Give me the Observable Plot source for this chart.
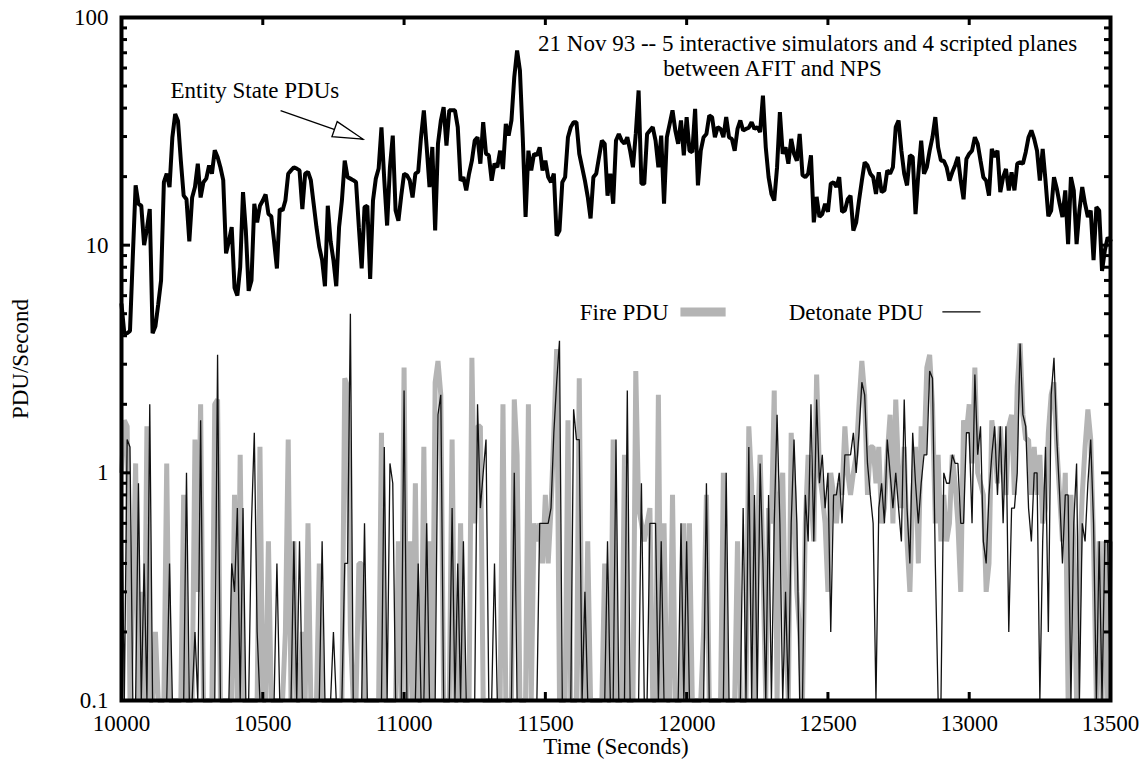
<!DOCTYPE html>
<html><head><meta charset="utf-8">
<script src="https://cdn.jsdelivr.net/npm/d3@7"></script>
<script src="https://cdn.jsdelivr.net/npm/@observablehq/plot@0.6"></script>
<style>html,body{margin:0;padding:0;background:#fff;} #chart svg{display:block}</style>
</head><body><div id="chart"></div>
<script>
// Sample times: one sample every 10 s starting at 10000 s
const startTime = 10000;
const sampleStep = 10;

// Entity State PDUs per second
const entityState = [
5.5,4.1,4.1,4.2,8.9,18.3,15.2,14.9,10.0,11.8,
14.4,4.1,4.4,5.5,7.0,18.9,20.6,18.0,29.8,37.7,
35.1,23.5,16.5,15.9,10.4,16.2,18.0,22.8,16.2,18.9,
19.6,22.4,20.6,26.1,24.4,22.0,19.3,9.2,10.4,12.0,
6.5,6.0,8.0,17.1,11.6,6.3,7.0,15.2,12.6,14.9,
15.7,16.7,13.7,13.4,10.4,7.9,14.4,14.2,15.7,20.6,
21.3,22.0,21.7,21.3,14.4,20.6,21.0,19.3,15.2,12.0,
9.8,8.6,6.6,14.9,10.4,8.6,6.6,12.0,15.7,23.5,
19.9,19.6,19.3,18.9,12.0,7.9,14.7,14.9,7.1,15.7,
19.6,21.7,32.9,19.3,12.2,22.0,30.3,14.2,12.8,16.5,
20.6,20.3,19.3,16.2,20.6,21.0,29.8,39.1,27.0,18.0,
27.0,11.6,27.9,35.1,40.4,27.4,39.1,39.1,39.1,33.0,
19.2,19.9,17.4,20.6,23.5,28.8,29.8,22.8,34.7,25.2,
24.8,19.2,22.8,22.0,26.0,21.6,34.1,30.3,35.3,54.7,
71.6,58.5,29.8,13.3,26.0,21.3,25.2,24.8,26.9,21.3,
23.5,19.9,18.9,20.6,11.0,11.6,18.9,19.9,29.8,33.0,
34.7,34.7,25.2,22.0,19.2,16.3,13.1,19.9,20.6,24.4,
28.8,27.9,16.5,20.6,15.2,28.8,30.8,28.8,27.9,29.8,
26.0,22.0,30.8,47.8,18.6,18.6,30.8,31.9,33.0,28.8,
22.0,30.3,15.2,29.8,34.1,39.1,31.9,27.9,35.3,24.8,
36.5,26.0,25.6,39.7,18.3,26.0,29.8,30.8,37.1,36.5,
29.8,33.0,32.4,29.8,36.5,29.8,29.3,26.0,32.4,35.3,
31.9,32.4,32.8,34.7,32.4,33.0,31.4,45.4,26.9,19.9,
16.8,15.7,22.0,38.4,25.2,26.9,22.8,29.3,25.2,23.5,
30.8,20.3,19.9,20.6,24.8,12.6,16.3,13.3,13.7,15.2,
14.0,18.6,18.9,18.0,19.9,14.0,14.2,15.9,16.5,11.6,
12.6,15.7,19.2,23.1,22.4,20.6,19.9,16.8,20.9,17.1,
17.4,21.3,20.6,22.0,33.0,35.3,26.0,20.6,18.3,24.8,
24.4,13.7,20.6,28.8,20.6,22.0,26.0,29.8,36.5,26.9,
23.5,23.5,22.0,19.2,20.9,22.4,24.4,19.2,15.9,23.9,
25.2,26.0,29.8,27.9,23.5,19.9,19.2,16.5,26.5,24.4,
26.0,17.1,19.9,21.6,17.4,20.9,17.4,22.8,23.1,22.8,
25.6,29.8,31.9,29.3,26.0,19.2,26.5,19.2,13.4,14.2,
19.9,17.7,15.2,13.3,17.4,10.1,19.9,17.4,10.1,14.2,
18.0,15.2,13.3,14.2,8.6,14.7,14.2,7.7,9.5,10.8,
10.5
];

// Fire PDUs per second (0 = none in that interval, drawn on the axis floor)
const firePdu = [
1.0,1.7,1.6,0,0.3,1.1,0,0.3,0,1.6,
0,0,0.2,0,0,0,1.1,0,0,0,
0,0,0.8,0,0,0,1.4,0.3,2.0,0,
0,0,0,2.0,2.1,0,0,0,0,0,
0.8,0,1.2,0,0,0,0,0,0,1.3,
0,0,0.5,0,0,0,0,0,0.2,1.4,
0,0.5,0,0,0.2,0,0.6,0,0,0,
0.4,0,0,0,0,0,0,0,0,2.6,
2.4,0.2,0,0,0.4,0.4,0,0,0,0,
0,0,1.5,0,0,0,0,0,0.5,0,
2.9,0,0.5,0,0.9,0,0,1.3,0,0.5,
0,2.5,3.1,2.2,0,0,0,1.4,0,0,
0.6,0,0,0,3.2,0.6,1.6,1.6,0,0,
0,0,0,0,0,2.0,0,0,0,2.1,
1.2,0,0,0,2.0,0,0.6,0.5,0.6,0.4,
0.8,0.4,0.7,1.5,3.5,0,0,0,1.7,0,
0,0,2.6,0,0,0.5,0,0,0,0,
0,0.4,0,0,1.4,0,0,0,1.2,0,
0,0,2.8,0.7,0.6,0.5,0.6,0.7,0,0,
2.2,0,0.6,0,0,0.8,0,0,0,0.6,
0,0.6,0,0,0,0,0.2,0.8,0,0,
0,0,0,1.0,0,0,0,0,0.5,0,
0,0,1.6,0.9,0,0.5,1.2,0.4,0,0.7,
0.6,2.3,0,0.8,1.0,0.2,0,1.5,0.8,0.3,
0.2,0,0.6,1.2,0.8,0.5,2.7,1.0,0.8,0.6,
0.3,1.0,0.8,0.6,0.9,0.8,1.6,1.0,0.8,1.0,
1.2,2.0,3.1,2.2,0.8,1.3,1.3,0.9,1.3,0.6,
0.7,1.2,1.8,0.6,2.1,1.0,0.7,1.3,0.5,0.3,
0.8,1.3,0.4,1.6,1.2,2.9,3.3,2.0,0.6,1.2,
0.5,0.8,0.5,0.6,1.2,0.9,0.6,0.3,1.7,1.5,
2.0,1.1,2.9,1.0,0.9,0.8,0.3,0.4,1.7,1.3,
0.9,1.6,1.0,0.8,1.6,1.8,0.8,2.4,3.7,1.8,
1.4,1.4,0.8,1.3,0.8,1.2,0.6,0.7,1.5,2.2,
2.5,1.3,0.8,0.5,1.0,0,0.8,0.5,0,0.4,
0.8,1.3,1.9,1.4,0.5,0,0.5,0,0.5,0,
0.5
];

// Detonate PDUs per second
const detonatePdu = [
1.0,0,1.4,1.3,0,0,0.9,0,0.4,0,
2.0,0,0,0,0,0,0,0.4,0,0,
0,0,0,1.0,0,0,0.2,0,1.7,0,
0,0,0,0,3.3,0,0,0,0,0.4,
0.3,0.7,0,0.7,0,0,0.6,1.5,0.2,0,
0,0,0,0,0,0.4,0,0,0,0,
0,0.5,0,0.5,0,0,0,0,0,0,
0,0.5,0,0,0,0.2,0,0,0,0.4,
0.4,5.0,0,0,0,0,0.6,0,0,0,
0,0,0,1.3,0,1.1,0.9,0,0,0,
2.3,0,0,0,0,0.4,0,0,0.6,0,
0,0,1.8,2.2,0,0,0,0.7,0,0.4,
0,0.5,0,0,0,0,2.0,0.7,1.0,1.4,
0,0,0.4,0,0,0,0,0,0,1.0,
0,0,0,0,0,0,0,0,0.6,0.6,
0.6,0.6,0.7,1.5,2.5,3.8,0,0,0,0,
1.9,1.4,1.4,0,0.3,0,0,0,0,0,
0,0,0.5,0,0,1.4,0,0,0,2.3,
0,0,0,0,0.9,0,0,0.6,0.6,0.6,
0,0.5,0,0,0,0,0,0,0.6,0,
0.5,0,0,0,0,0,0,0.9,0,0,
0,0,0,0,1.0,0,0,0,0,0,
0.7,0,1.3,0,0.8,0,1.1,0.4,0,0.8,
0,0.6,1.8,0.6,0,0.3,0,0.6,1.4,0.6,
0,0,0.8,0.5,2.0,0.5,2.1,0.9,1.2,0.7,
1.0,0.2,0.8,0.8,1.0,0.6,1.2,1.2,1.2,1.5,
1.0,1.5,2.5,2.2,1.1,0.8,0.6,0,0.7,0.9,
0.6,1.4,1.0,0.7,1.0,0.7,0.5,2.1,0.7,0.4,
1.5,0.9,0.6,0.9,1.2,1.2,2.8,2.6,0.4,0,
0,1.0,0.9,0.9,1.2,1.1,1.1,0.6,0.6,1.5,
1.5,0.6,2.7,1.2,1.6,0.5,0.4,0.8,1.2,1.6,
0.8,1.6,0.6,1.6,0.2,0.7,0.7,1.0,3.7,1.8,
1.6,0.7,0.5,1.0,1.0,0,0.5,1.3,0.2,2.2,
3.2,1.4,0.8,0.4,0.8,0.8,0,0.6,1.1,0,
0.6,0.5,0.9,1.4,0.6,0,0.5,0,0.5,0.5,
0
];

const xTicks = [10000, 10500, 11000, 11500, 12000, 12500, 13000, 13500];
const yTicks = [0.1, 1, 10, 100];
const yMinorTicks = [0.2,0.3,0.4,0.5,0.6,0.7,0.8,0.9,2,3,4,5,6,7,8,9,20,30,40,50,60,70,80,90];
const titleLines = ["21 Nov 93 -- 5 interactive simulators and 4 scripted planes", "between AFIT and NPS"];
const entityLabel = "Entity State PDUs";
const fireLabel = "Fire PDU";
const detonateLabel = "Detonate PDU";
const xLabel = "Time (Seconds)";
const yLabel = "PDU/Second";

const rows = entityState.map((v, i) => ({
  t: startTime + i * sampleStep,
  entity: v,
  fire: firePdu[i],
  det: detonatePdu[i]
}));

const FONT = "'Liberation Serif', 'Times New Roman', Times, serif";
const GRAY = "#b4b4b4";

const arrowTail = {t: 10563, v: 39.0};
const arrowTip = {t: 10856, v: 29.1};

const W = 1144, H = 759, ML = 121, MR = 34, MT = 17, MB = 59;
const innerW = W - ML - MR, innerH = H - MT - MB;
// inward tick lengths (px)
const XT = 8, YT = 9, YM = 6;

const chart = Plot.plot({
  width: W,
  height: H,
  marginLeft: ML,
  marginRight: MR,
  marginTop: MT,
  marginBottom: MB,
  style: {fontFamily: FONT, fontSize: "23px", background: "#fff", color: "#000"},
  x: {domain: [10000, 13500], label: null},
  y: {type: "log", domain: [0.1, 100], clamp: true, label: null},
  marks: [
    Plot.line(rows, {x: "t", y: "fire", stroke: GRAY, strokeWidth: 5, strokeLinejoin: "miter", strokeLinecap: "butt"}),
    Plot.line(rows, {x: "t", y: "det", stroke: "#111", strokeWidth: 1.3, strokeLinejoin: "miter"}),
    Plot.line(rows, {x: "t", y: "entity", stroke: "#000", strokeWidth: 4, strokeLinejoin: "miter"}),
    // annotations
    Plot.text([titleLines[0]], {x: 12428, y: 71.6, text: d => d, textAnchor: "middle", lineAnchor: "bottom"}),
    Plot.text([titleLines[1]], {x: 12304, y: 55.1, text: d => d, textAnchor: "middle", lineAnchor: "bottom"}),
    Plot.text([entityLabel], {x: 10472, y: 44.5, text: d => d, textAnchor: "middle", lineAnchor: "bottom"}),
    Plot.link([arrowTail], {x1: d => d.t, y1: d => d.v, x2: arrowTip.t, y2: arrowTip.v, stroke: "#000", strokeWidth: 1.3}),
    // legend
    Plot.text([fireLabel], {x: 11936, y: 4.67, text: d => d, textAnchor: "end", lineAnchor: "bottom"}),
    Plot.link([fireLabel], {x1: 11978, x2: 12138, y1: 5.09, y2: 5.09, stroke: GRAY, strokeWidth: 9}),
    Plot.text([detonateLabel], {x: 12838, y: 4.67, text: d => d, textAnchor: "end", lineAnchor: "bottom"}),
    Plot.link([detonateLabel], {x1: 12905, x2: 13040, y1: 5.09, y2: 5.09, stroke: "#000", strokeWidth: 1.3}),
    // axis labels
    Plot.text([xLabel], {frameAnchor: "bottom", dy: 53, text: d => d, textAnchor: "middle", lineAnchor: "bottom"}),
    Plot.text([yLabel], {frameAnchor: "left", dx: -101, rotate: -90, text: d => d, textAnchor: "middle", lineAnchor: "middle"}),
    // tick labels
    Plot.axisX(xTicks, {anchor: "bottom", tickSize: 0, tickPadding: 14, tickFormat: d3.format("d"), label: null}),
    Plot.axisY(yTicks, {anchor: "left", tickSize: 0, tickPadding: 13, tickFormat: d => String(d), label: null}),
    // inward ticks on all four sides
    Plot.ruleX(xTicks, {x: d => d, insetTop: innerH - XT, stroke: "#000", strokeWidth: 3}),
    Plot.ruleX(xTicks, {x: d => d, insetBottom: innerH - XT, stroke: "#000", strokeWidth: 3}),
    Plot.ruleY(yTicks, {y: d => d, insetRight: innerW - YT, stroke: "#000", strokeWidth: 3}),
    Plot.ruleY(yMinorTicks, {y: d => d, insetRight: innerW - YM, stroke: "#000", strokeWidth: 3}),
    Plot.ruleY(yTicks, {y: d => d, insetLeft: innerW - YT, stroke: "#000", strokeWidth: 3}),
    Plot.ruleY(yMinorTicks, {y: d => d, insetLeft: innerW - YM, stroke: "#000", strokeWidth: 3}),
    Plot.frame({stroke: "#000", strokeWidth: 4})
  ]
});

// open triangular arrowhead, positioned through the plot's own scales
(function addHead() {
  const sx = chart.scale("x"), sy = chart.scale("y");
  const tx = sx.apply(arrowTip.t), ty = sy.apply(arrowTip.v);
  const ax = sx.apply(arrowTail.t), ay = sy.apply(arrowTail.v);
  const len = Math.hypot(tx - ax, ty - ay);
  const ux = (tx - ax) / len, uy = (ty - ay) / len;
  const headLen = 30, half = 8;
  const bx = tx - ux * headLen, by = ty - uy * headLen;
  const pts = [[tx, ty], [bx - uy * half, by + ux * half], [bx + uy * half, by - ux * half]];
  d3.select(chart).append("polygon")
    .attr("points", pts.map(p => p.join(",")).join(" "))
    .attr("fill", "#fff").attr("stroke", "#000").attr("stroke-width", 1.3);
})();

document.getElementById("chart").appendChild(chart);
</script>
</body></html>
